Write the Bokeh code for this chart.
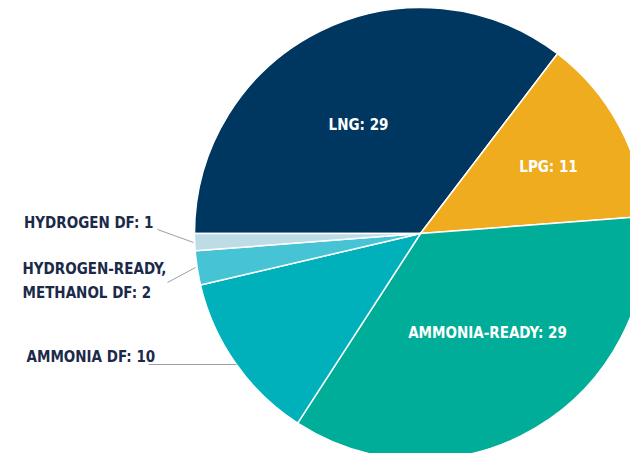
import math
from bokeh.plotting import figure
from bokeh.models import ColumnDataSource, Range1d
from bokeh.core.properties import value
from bokeh.embed import file_html
from bokeh.resources import INLINE

# data
categories = ["LNG", "LPG", "AMMONIA-READY", "AMMONIA DF", "HYDROGEN-READY, METHANOL DF", "HYDROGEN DF"]
counts = [29, 11, 29, 10, 2, 1]
colors = ["#003761", "#f0ac1f", "#00ad98", "#00b1bb", "#46c4d5", "#bddce5"]

total = sum(counts)
starts, ends = [], []
cum = 0.0
for v in counts:
    a0 = math.pi - 2 * math.pi * cum / total
    cum += v
    a1 = math.pi - 2 * math.pi * cum / total
    starts.append(a0)
    ends.append(a1)

src = ColumnDataSource(dict(start=starts, end=ends, color=colors, cat=categories, n=counts))

p = figure(width=630, height=453, output_backend="svg", toolbar_location=None,
           x_range=Range1d(0, 630), y_range=Range1d(-453, 0), min_border=0)
p.axis.visible = False
p.grid.visible = False
p.outline_line_color = None
p.background_fill_color = "white"

cx, cy, r = 420, -233, 226
p.wedge(x=cx, y=cy, radius=r, start_angle="start", end_angle="end", direction="clock",
        fill_color="color", line_color="white", line_width=1.5, source=src)

font = value("DejaVu Sans Condensed")
fs = "15px"
# inner labels
inner_x = [358, 548, 487]
inner_y = [-124, -166, -332]
inner_t = [f"{categories[i]}: {counts[i]}" for i in range(3)]
p.text(x=inner_x, y=inner_y, text=inner_t, text_color="white", text_font=font,
       text_font_style="bold", text_font_size=fs, text_align="center", text_baseline="middle")

# outer labels
dark = "#1c2a4a"
p.text(x=[153], y=[-222], text=[f"{categories[5]}: {counts[5]}"], text_color=dark, text_font=font,
       text_font_style="bold", text_font_size=fs, text_align="right", text_baseline="middle")
p.text(x=[22, 22], y=[-268, -292], text=["HYDROGEN-READY,", f"METHANOL DF: {counts[4]}"], text_color=dark,
       text_font=font, text_font_style="bold", text_font_size=fs, text_align="left", text_baseline="middle")
p.text(x=[26], y=[-356], text=[f"{categories[3]}: {counts[3]}"], text_color=dark, text_font=font,
       text_font_style="bold", text_font_size=fs, text_align="left", text_baseline="middle")

# leader lines
p.line(x=[157, 193], y=[-229, -242], line_color="#9aa0a6", line_width=1)
p.line(x=[167, 195], y=[-282, -267], line_color="#9aa0a6", line_width=1)
p.line(x=[148, 236], y=[-364, -364], line_color="#9aa0a6", line_width=1)

open("out.html", "w").write(file_html(p, INLINE))
